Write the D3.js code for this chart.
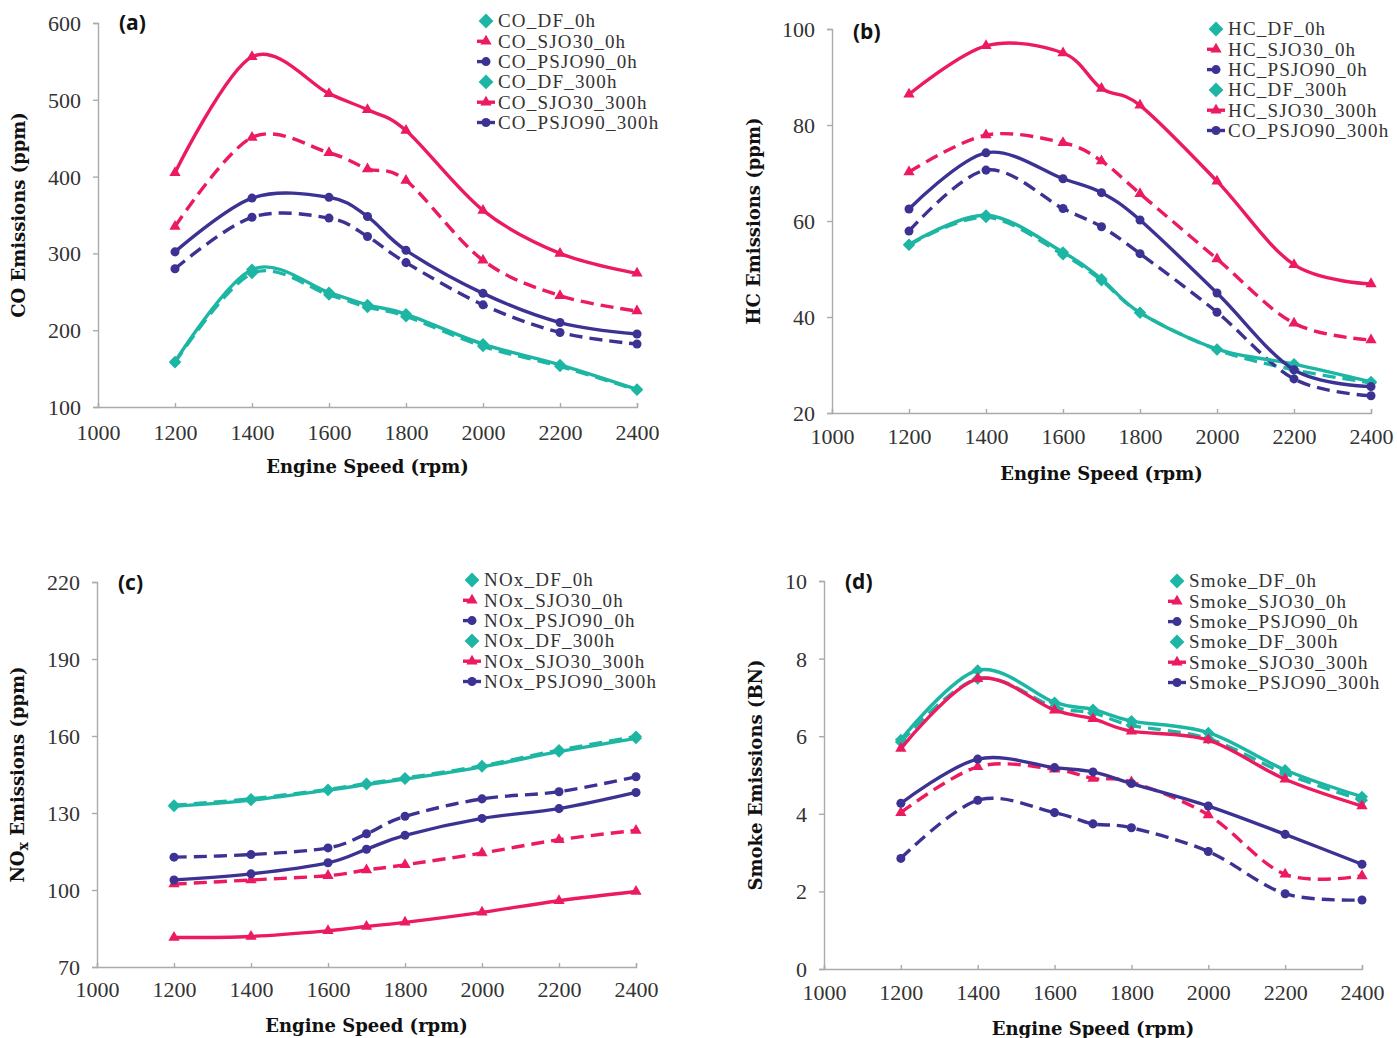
<!DOCTYPE html>
<html><head><meta charset="utf-8">
<script src="https://cdn.jsdelivr.net/npm/d3@7"></script>
<style>
html,body{margin:0;padding:0;background:#fff;}
svg{display:block;}
</style></head>
<body>
<svg id="chart" width="1397" height="1038"></svg>
<script>
// ---------- DATA ----------
const speeds = [1200, 1400, 1600, 1700, 1800, 2000, 2200, 2400];
const xTickValues = [1000, 1200, 1400, 1600, 1800, 2000, 2200, 2400];
const fuels = ["DF", "SJO30", "PSJO90"];

// (a) CO
const coNames = ["CO_DF_0h", "CO_SJO30_0h", "CO_PSJO90_0h", "CO_DF_300h", "CO_SJO30_300h", "CO_PSJO90_300h"];
const coDF_0h      = [158, 274, 246, 230, 218, 179, 153, 122];
const coSJO30_0h   = [335, 451, 431, 410, 395, 291, 245, 225];
const coPSJO90_0h  = [280, 347, 346, 322, 288, 233, 197, 182];
const coDF_300h    = [159, 279, 249, 233, 221, 182, 155, 123];
const coSJO30_300h = [405, 556, 508, 487, 460, 356, 300, 274];
const coPSJO90_300h= [302, 372, 373, 348, 304, 248, 210, 195];
const coTicks = [100, 200, 300, 400, 500, 600];

// (b) HC
const hcNames = ["HC_DF_0h", "HC_SJO30_0h", "HC_PSJO90_0h", "HC_DF_300h", "HC_SJO30_300h", "CO_PSJO90_300h"];
const hcDF_0h      = [55.0, 60.8, 53.0, 47.6, 40.9, 33.2, 29.0, 26.3];
const hcSJO30_0h   = [70.2, 77.9, 76.3, 72.5, 65.7, 52.1, 38.7, 35.2];
const hcPSJO90_0h  = [57.9, 70.6, 62.6, 58.8, 53.2, 41.0, 27.1, 23.6];
const hcDF_300h    = [55.1, 61.2, 53.5, 47.9, 40.9, 33.3, 30.2, 26.5];
const hcSJO30_300h = [86.4, 96.5, 95.0, 87.6, 84.1, 68.3, 50.9, 46.9];
const hcPSJO90_300h= [62.5, 74.2, 68.8, 65.9, 60.2, 45.0, 29.0, 25.5];
const hcTicks = [20, 40, 60, 80, 100];

// (c) NOx
const noxNames = ["NOx_DF_0h", "NOx_SJO30_0h", "NOx_PSJO90_0h", "NOx_DF_300h", "NOx_SJO30_300h", "NOx_PSJO90_300h"];
const noxDF_0h      = [133.0, 135.5, 139.2, 141.5, 143.6, 148.4, 154.5, 159.8];
const noxSJO30_0h   = [102.3, 103.9, 105.6, 107.8, 109.8, 114.4, 119.6, 123.2];
const noxPSJO90_0h  = [112.8, 113.8, 116.4, 121.9, 128.7, 135.5, 138.3, 144.1];
const noxDF_300h    = [132.6, 135.0, 138.9, 141.1, 143.2, 148.0, 153.9, 159.1];
const noxSJO30_300h = [81.5, 81.9, 84.1, 85.8, 87.4, 91.3, 95.8, 99.4];
const noxPSJO90_300h= [103.9, 106.3, 110.6, 115.9, 121.3, 127.9, 131.7, 138.0];
const noxTicks = [70, 100, 130, 160, 190, 220];

// (d) Smoke
const smNames = ["Smoke_DF_0h", "Smoke_SJO30_0h", "Smoke_PSJO90_0h", "Smoke_DF_300h", "Smoke_SJO30_300h", "Smoke_PSJO90_300h"];
const smDF_0h      = [5.85, 7.48, 6.75, 6.60, 6.28, 5.94, 5.04, 4.35];
const smSJO30_0h   = [4.03, 5.21, 5.15, 4.91, 4.82, 3.97, 2.44, 2.40];
const smPSJO90_0h  = [2.85, 4.35, 4.03, 3.74, 3.64, 3.03, 1.94, 1.78];
const smDF_300h    = [5.91, 7.70, 6.87, 6.69, 6.39, 6.09, 5.13, 4.44];
const smSJO30_300h = [5.68, 7.48, 6.67, 6.45, 6.13, 5.90, 4.89, 4.20];
const smPSJO90_300h= [4.27, 5.41, 5.19, 5.08, 4.78, 4.20, 3.47, 2.70];
const smTicks = [0, 2, 4, 6, 8, 10];

// ---------- STYLE ----------
const colors = {DF: "#1db6a4", SJO30: "#ec1a5e", PSJO90: "#3b3293"};
const symbols = {DF: d3.symbolSquare, SJO30: d3.symbolTriangle, PSJO90: d3.symbolCircle};
const symRot = {DF: 45, SJO30: 0, PSJO90: 0};
const symSizes = {DF: 72, SJO30: 55, PSJO90: 64};
const legSizes = {DF: 110, SJO30: 55, PSJO90: 64};
const tickFont = "'Liberation Serif', serif";
const titleFont = "'DejaVu Serif', serif";

const panels = [
  {tag: "(a)", names: coNames, series: [coDF_0h, coSJO30_0h, coPSJO90_0h, coDF_300h, coSJO30_300h, coPSJO90_300h],
   yTicks: coTicks, ytitle: ["CO Emissions (ppm)"], x0: 98, x1: 637, y0: 407, y1: 23,
   legX: 486, legY: 21, xlabY: 440, xtitleY: 473, ytitleX: 25, tagX: 119, tagY: 30},
  {tag: "(b)", names: hcNames, series: [hcDF_0h, hcSJO30_0h, hcPSJO90_0h, hcDF_300h, hcSJO30_300h, hcPSJO90_300h],
   yTicks: hcTicks, ytitle: ["HC Emissions (ppm)"], x0: 832, x1: 1371, y0: 413, y1: 29,
   legX: 1216, legY: 29, xlabY: 444, xtitleY: 480, ytitleX: 760, tagX: 853, tagY: 39},
  {tag: "(c)", names: noxNames, series: [noxDF_0h, noxSJO30_0h, noxPSJO90_0h, noxDF_300h, noxSJO30_300h, noxPSJO90_300h],
   yTicks: noxTicks, ytitle: null, x0: 97, x1: 636, y0: 967, y1: 582,
   legX: 472, legY: 580, xlabY: 997, xtitleY: 1032, ytitleX: 24, tagX: 118, tagY: 590},
  {tag: "(d)", names: smNames, series: [smDF_0h, smSJO30_0h, smPSJO90_0h, smDF_300h, smSJO30_300h, smPSJO90_300h],
   yTicks: smTicks, ytitle: ["Smoke Emissions (BN)"], x0: 824, x1: 1362, y0: 969, y1: 581,
   legX: 1177, legY: 581, xlabY: 1000, xtitleY: 1035, ytitleX: 762, tagX: 845, tagY: 589}
];

const svg = d3.select("#chart");

panels.forEach((p, pi) => {
  const g = svg.append("g");
  const x = d3.scaleLinear().domain([1000, 2400]).range([p.x0, p.x1]);
  const yMin = p.yTicks[0], yMax = p.yTicks[p.yTicks.length - 1];
  const y = d3.scaleLinear().domain([yMin, yMax]).range([p.y0, p.y1]);

  // y axis
  const ya = g.append("g").attr("transform", `translate(${p.x0},0)`)
    .call(d3.axisLeft(y).tickValues(p.yTicks).tickSize(5).tickPadding(12).tickFormat(d3.format("d")));
  // x axis
  const xa = g.append("g").attr("transform", `translate(0,${p.y0})`)
    .call(d3.axisBottom(x).tickValues(xTickValues).tickSize(-4).tickPadding(18).tickFormat(d3.format("d")));
  [ya, xa].forEach(a => {
    a.select(".domain").attr("stroke", "#ababab").attr("stroke-width", 1.4);
    a.selectAll(".tick line").attr("stroke", "#ababab").attr("stroke-width", 1.4);
    a.selectAll(".tick text").attr("fill", "#333").style("font-family", tickFont).style("font-size", "22px");
  });
  ya.selectAll(".tick text").attr("dy", "0.34em");
  xa.selectAll(".tick text").attr("dy", null).attr("y", p.xlabY - p.y0);

  // x title
  g.append("text").attr("x", (p.x0 + p.x1) / 2).attr("y", p.xtitleY).attr("text-anchor", "middle")
    .style("font-family", titleFont).style("font-weight", "bold").style("font-size", "18px").attr("fill", "#111")
    .text("Engine Speed (rpm)");

  // y title
  const yt = g.append("text").attr("transform", `translate(${p.ytitleX},${(p.y0 + p.y1) / 2}) rotate(-90)`)
    .attr("text-anchor", "middle")
    .style("font-family", titleFont).style("font-weight", "bold").style("font-size", "18px").attr("fill", "#111");
  if (p.ytitle) {
    yt.text(p.ytitle[0]);
  } else {
    yt.append("tspan").text("NO");
    yt.append("tspan").text("x").attr("baseline-shift", "-25%").style("font-size", "14px");
    yt.append("tspan").text(" Emissions (ppm)");
  }

  // panel tag
  g.append("text").attr("x", p.tagX).attr("y", p.tagY)
    .style("font-family", "'Open Sans', sans-serif").style("font-weight", "bold").style("font-size", "21px").attr("fill", "#111")
    .text(p.tag);

  // series
  const line = d3.line().x((d, i) => x(speeds[i])).y(d => y(d)).curve(d3.curveCardinal.tension(0));
  p.series.forEach((vals, si) => {
    const fuel = fuels[si % 3];
    const dashed = si < 3;
    const col = colors[fuel];
    g.append("path").datum(vals).attr("d", line).attr("fill", "none").attr("stroke", col)
      .attr("stroke-width", 3.4).attr("stroke-linejoin", "round")
      .attr("stroke-dasharray", dashed ? "13,7" : null);
    g.selectAll(null).data(vals).enter().append("path")
      .attr("transform", (d, i) => `translate(${x(speeds[i])},${y(d)}) rotate(${symRot[fuel]})`)
      .attr("d", d3.symbol().type(symbols[fuel]).size(symSizes[fuel]))
      .attr("fill", col);
  });

  // legend
  p.names.forEach((name, si) => {
    const fuel = fuels[si % 3];
    const dashed = si < 3;
    const col = colors[fuel];
    const ly = p.legY + si * 20.3;
    const lg = g.append("g").attr("transform", `translate(${p.legX},${ly})`);
    if (fuel !== "DF") {
      lg.append("line").attr("x1", -9).attr("x2", dashed ? -1 : 9).attr("y1", 0).attr("y2", 0)
        .attr("stroke", col).attr("stroke-width", 3.4);
    }
    lg.append("path").attr("transform", `rotate(${symRot[fuel]})`)
      .attr("d", d3.symbol().type(symbols[fuel]).size(legSizes[fuel]))
      .attr("fill", col);
    lg.append("text").attr("x", 12).attr("y", 0).attr("dy", "0.34em")
      .style("font-family", tickFont).style("font-size", "19px").style("letter-spacing", "1.2px")
      .attr("fill", "#333").text(name);
  });
});
</script>
</body></html>
